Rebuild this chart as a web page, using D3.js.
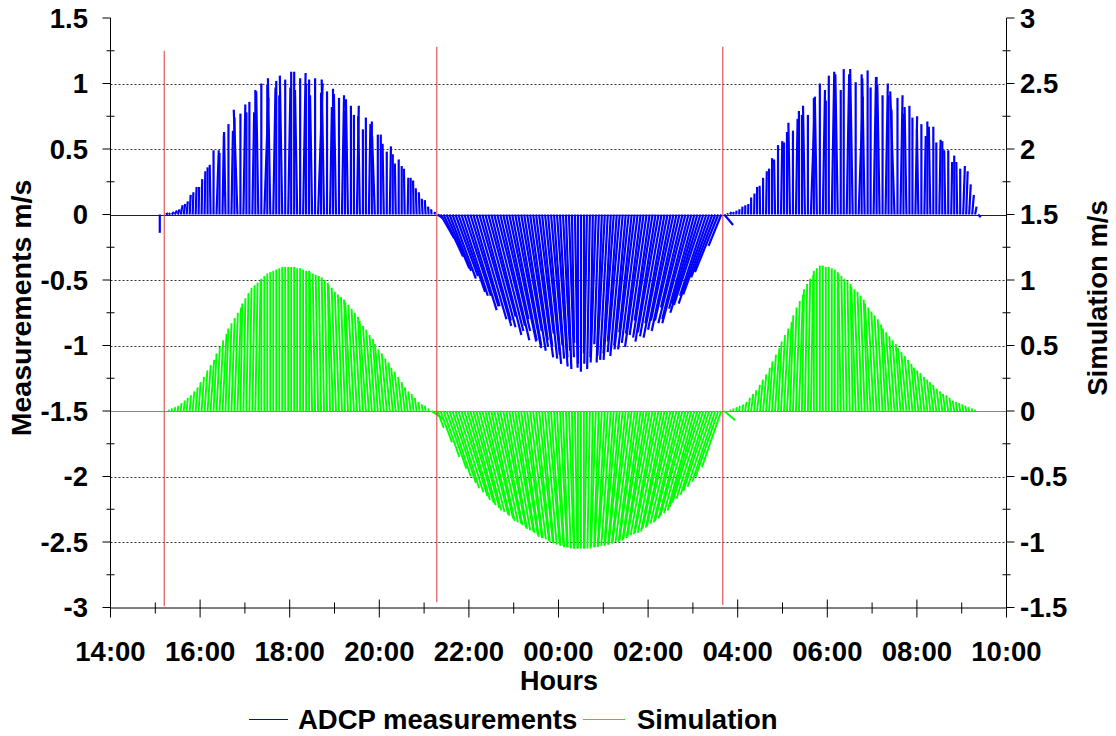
<!DOCTYPE html>
<html>
<head>
<meta charset="utf-8">
<script src="https://cdn.jsdelivr.net/npm/d3@7"></script>
<style>
  html, body { margin: 0; padding: 0; background: #ffffff; }
  svg { display: block; }
  text { font-family: "Liberation Sans", Arial, Helvetica, sans-serif; font-weight: bold; fill: #000; }
</style>
</head>
<body>
<svg id="chart" width="1116" height="736"></svg>
<script>
// Sampling grid of both records: first stick at 15:06, one stick every 4 minutes.
const sampleStart = new Date(2000, 0, 1, 15, 6);
const sampleStepMinutes = 4;

// ADCP measured current (m/s, vertical component of each stick), one row per hour.
const adcpSpeed = [
  -0.14, 0, 0.01, 0.01, 0.02, 0.03, 0.04, 0.07, 0.08, 0.10, 0.15, 0.17, 0.21, 0.21, 0.27,
  0.33, 0.36, 0.38, 0.49, 0.49, 0.47, 0.61, 0.63, 0.69, 0.64, 0.74, 0.80, 0.77, 0.84, 0.78,
  0.86, 0.78, 0.95, 0.94, 1.00, 0.89, 0.99, 1.04, 0.97, 1.02, 0.91, 1.06, 1.03, 0.97, 1.09,
  1.09, 0.95, 1.04, 1.08, 1.00, 1.03, 0.91, 1.04, 1.00, 0.93, 1.03, 0.94, 0.82, 0.96, 0.92,
  0.89, 0.91, 0.79, 0.88, 0.83, 0.76, 0.83, 0.75, 0.65, 0.74, 0.69, 0.71, 0.60, 0.61, 0.61,
  0.54, 0.48, 0.52, 0.46, 0.39, 0.42, 0.37, 0.35, 0.28, 0.28, 0.26, 0.20, 0.17, 0.12, 0.11,
  0.06, 0.04, 0.02, -0.03, -0.18, -0.32, -0.41, -0.43, -0.49, -0.47, -0.59, -0.62, -0.62, -0.73, -0.70,
  -0.70, -0.80, -0.85, -0.81, -0.86, -0.78, -0.92, -0.89, -0.85, -0.96, -0.89, -0.80, -0.97, -0.96, -1.02,
  -1.00, -0.89, -1.04, -1.01, -0.96, -1.09, -1.01, -0.91, -1.10, -1.07, -1.14, -1.00, -1.10, -1.16, -1.09,
  -1.04, -1.18, -1.09, -0.98, -1.17, -1.14, -1.20, -1.06, -1.14, -1.18, -1.09, -1.13, -0.99, -1.13, -1.08,
  -1.11, -1.06, -1.11, -0.97, -1.05, -1.08, -1.00, -1.03, -0.90, -1.03, -0.98, -0.91, -1.01, -0.92, -0.81,
  -0.94, -0.97, -0.90, -0.93, -0.83, -0.94, -0.88, -0.81, -0.89, -0.81, -0.71, -0.83, -0.80, -0.83, -0.72,
  -0.68, -0.75, -0.69, -0.62, -0.68, -0.61, -0.48, -0.44, -0.24, -0.08, 0.01, 0.02, 0.02, 0.03, 0.04,
  0.06, 0.07, 0.08, 0.13, 0.16, 0.21, 0.22, 0.28, 0.33, 0.35, 0.43, 0.42, 0.53, 0.56, 0.55,
  0.63, 0.70, 0.64, 0.73, 0.79, 0.76, 0.83, 0.76, 0.90, 0.89, 0.86, 1.00, 0.95, 0.87, 1.06,
  1.09, 1.02, 1.07, 0.95, 1.11, 1.07, 1.00, 1.11, 1.01, 0.90, 1.07, 1.04, 1.10, 0.97, 1.05,
  1.05, 0.99, 0.91, 1.00, 0.91, 0.80, 0.94, 0.89, 0.91, 0.77, 0.82, 0.83, 0.74, 0.75, 0.65,
  0.69, 0.60, 0.71, 0.67, 0.67, 0.55, 0.57, 0.56, 0.49, 0.49, 0.40, 0.45, 0.40, 0.35, 0.37,
  0.33, 0.23, 0.15, 0.06, -0.02
];

// ADCP stick direction: lean from vertical in degrees (positive = tip to the right).
const adcpLean = [
  0, 70, 60, 50, 40, 30, 20, 12, 8, 5, 3, 2, 2, 1, 1,
  1, 0, -1, 0, 2, 0, 1, -1, 0, 1, 0, -2, 0, 1, 0,
  0, 1, 0, -1, 0, 2, 0, -1, 1, 0, 0, -1, 0, 1, 0,
  0, -1, 0, 1, 0, 0, -1, 0, 2, 0, -1, 0, 1, 0, -1,
  0, 1, 0, -1, 0, 0, 1, -1, 0, 0, 1, 0, -2, 0, 0,
  -1, 0, 1, 0, -1, 0, 0, -1, 1, 0, -1, -2, -2, -3, -3,
  -4, -5, 10, 55, 30, 25, 23, 21, 20, 20, 19, 18, 18, 17, 17,
  16, 16, 16, 15, 15, 15, 14, 14, 14, 13, 13, 12, 12, 11, 11,
  10, 10, 9, 9, 8, 8, 7, 7, 6, 6, 5, 5, 4, 4, 3,
  3, 2, 2, 1, 1, 0, 0, 0, -1, -1, -1, -2, -2, -2, -3,
  -3, -3, -4, -4, -5, -5, -5, -6, -6, -7, -7, -7, -8, -8, -8,
  -9, -9, -10, -10, -10, -11, -11, -12, -12, -13, -13, -14, -14, -15, -15,
  -16, -17, -18, -18, -19, -20, -21, -22, -22, 40, 30, 20, 10, 5, 3,
  2, 1, 1, 0, 1, 0, -1, 0, 1, 0, 0, -1, 0, 1, 0,
  0, -1, 0, 1, 0, 0, -1, 0, 2, 0, -1, 0, 1, 0, 0,
  1, 0, -1, 0, 0, 1, 0, -1, 0, 2, 0, -1, 0, 0, 1,
  0, -1, 0, 1, 0, 0, -2, 0, 1, 0, -1, 0, 0, 1, -1,
  0, 1, 0, -1, 0, 0, 1, 0, -1, 0, 1, 0, -1, 0, 2,
  2, 3, 5, 10, 45
];

// Simulated current (m/s, right axis), same sampling grid.
const simSpeed = [
  0, 0, 0.00, 0.01, 0.02, 0.03, 0.04, 0.06, 0.08, 0.10, 0.12, 0.15, 0.18, 0.22, 0.26,
  0.31, 0.35, 0.39, 0.44, 0.49, 0.54, 0.59, 0.63, 0.67, 0.71, 0.75, 0.79, 0.82, 0.86, 0.90,
  0.94, 0.96, 0.98, 0.99, 1.01, 1.03, 1.05, 1.06, 1.07, 1.08, 1.09, 1.10, 1.10, 1.10, 1.10,
  1.10, 1.09, 1.09, 1.08, 1.07, 1.07, 1.06, 1.05, 1.04, 1.03, 1.02, 1.00, 0.98, 0.96, 0.94,
  0.91, 0.89, 0.87, 0.85, 0.83, 0.81, 0.78, 0.75, 0.72, 0.69, 0.65, 0.62, 0.58, 0.55, 0.51,
  0.47, 0.44, 0.40, 0.37, 0.33, 0.30, 0.26, 0.22, 0.18, 0.15, 0.13, 0.10, 0.07, 0.05, 0.04,
  0.02, -0.04, -0.07, -0.13, -0.24, -0.35, -0.44, -0.50, -0.55, -0.59, -0.62, -0.65, -0.68, -0.70, -0.72,
  -0.74, -0.76, -0.77, -0.79, -0.80, -0.82, -0.84, -0.85, -0.86, -0.87, -0.89, -0.90, -0.91, -0.92, -0.93,
  -0.95, -0.96, -0.97, -0.97, -0.98, -0.99, -1.00, -1.00, -1.01, -1.02, -1.02, -1.03, -1.03, -1.04, -1.04,
  -1.04, -1.05, -1.05, -1.05, -1.05, -1.05, -1.05, -1.05, -1.05, -1.05, -1.05, -1.04, -1.04, -1.04, -1.04,
  -1.03, -1.03, -1.03, -1.02, -1.02, -1.02, -1.01, -1.01, -1.00, -1.00, -0.99, -0.99, -0.98, -0.97, -0.96,
  -0.95, -0.94, -0.93, -0.93, -0.92, -0.90, -0.89, -0.88, -0.86, -0.85, -0.84, -0.82, -0.80, -0.78, -0.76,
  -0.73, -0.70, -0.67, -0.64, -0.61, -0.58, -0.54, -0.50, -0.43, -0.07, 0.00, 0.01, 0.02, 0.03, 0.04,
  0.05, 0.07, 0.10, 0.13, 0.16, 0.20, 0.24, 0.28, 0.33, 0.38, 0.43, 0.48, 0.53, 0.58, 0.63,
  0.68, 0.73, 0.79, 0.84, 0.89, 0.93, 0.97, 1.01, 1.04, 1.07, 1.09, 1.11, 1.11, 1.10, 1.10,
  1.09, 1.08, 1.06, 1.05, 1.03, 1.01, 0.99, 0.97, 0.95, 0.93, 0.91, 0.88, 0.85, 0.82, 0.79,
  0.76, 0.73, 0.70, 0.66, 0.63, 0.60, 0.57, 0.54, 0.51, 0.48, 0.45, 0.42, 0.39, 0.36, 0.33,
  0.31, 0.29, 0.26, 0.24, 0.22, 0.20, 0.17, 0.15, 0.13, 0.12, 0.10, 0.08, 0.07, 0.06, 0.05,
  0.04, 0.03, 0.02, 0.01, 0.00
];

// Simulated stick direction: lean from vertical in degrees.
const simLean = [
  0, 0, 8, 8, 7, 7, 6, 6, 6, 5, 5, 5, 5, 4, 4,
  4, 4, 4, 3, 3, 3, 3, 2, 2, 2, 2, 2, 1, 1, 1,
  1, 1, 1, 1, 0, 0, 0, 0, 0, 0, 0, 0, 0, 0, 0,
  0, 0, 0, 0, 0, 0, -1, -1, -1, -1, -1, -1, -1, -2, -2,
  -2, -2, -2, -2, -3, -3, -3, -3, -3, -4, -4, -4, -4, -4, -5,
  -5, -5, -5, -5, -6, -6, -6, -6, -7, -7, -7, -8, -8, -8, -9,
  -5, 55, 45, 20, 20, 19, 19, 18, 18, 17, 17, 17, 16, 16, 15,
  15, 14, 14, 14, 13, 13, 12, 12, 12, 11, 11, 10, 10, 10, 9,
  9, 8, 8, 7, 7, 7, 6, 6, 5, 5, 5, 4, 4, 3, 3,
  2, 2, 2, 1, 1, 0, 0, 0, -1, -1, -1, -2, -2, -3, -3,
  -4, -4, -4, -5, -5, -6, -6, -7, -7, -7, -8, -8, -9, -9, -10,
  -10, -10, -11, -11, -11, -12, -12, -13, -13, -13, -14, -14, -15, -15, -15,
  -16, -17, -17, -17, -18, -18, -18, -19, -19, 50, 40, 20, 10, 8, 6,
  10, 9, 8, 7, 6, 6, 5, 5, 5, 4, 4, 4, 3, 3, 3,
  3, 2, 2, 2, 2, 1, 1, 1, 1, 0, 0, 0, 0, 0, 0,
  0, 0, 0, -1, -1, -1, -1, -1, -2, -2, -2, -2, -2, -3, -3,
  -3, -3, -3, -3, -4, -4, -4, -4, -4, -5, -5, -5, -5, -5, -6,
  -6, -6, -6, -6, -7, -7, -7, -7, -8, -8, -8, -8, -9, -9, -9,
  -10, -10, -10, -10, 0
];

// Slack-water markers (red verticals), spans given in left-axis units.
const slackTimes = [new Date(2000, 0, 1, 15, 12), new Date(2000, 0, 1, 21, 17), new Date(2000, 0, 2, 3, 40)];
const slackTop = [1.25, 1.28, 1.28];
const slackBottom = [-2.99, -2.96, -2.98];

// Axis tick values and labels.
const leftTicks = [1.5, 1, 0.5, 0, -0.5, -1, -1.5, -2, -2.5, -3];
const rightTicks = [3, 2.5, 2, 1.5, 1, 0.5, 0, -0.5, -1, -1.5];
const timeDomain = [new Date(2000, 0, 1, 14, 0), new Date(2000, 0, 2, 10, 0)];

const svg = d3.select("#chart");

const x = d3.scaleTime().domain(timeDomain).range([110.5, 1006.5]);
const yL = d3.scaleLinear().domain([-3, 1.5]).range([607.5, 18]);
const yR = d3.scaleLinear().domain([-1.5, 3]).range([607.5, 18]);

const plotLeft = x.range()[0], plotRight = x.range()[1];
const plotTop = yL.range()[1], plotBottom = yL.range()[0];

// dotted horizontal grid
const gridVals = leftTicks.filter(v => v !== 0 && v !== -1.5 && v !== -3 && v !== 1.5);
svg.append("g").selectAll("line").data(gridVals).join("line")
  .attr("x1", plotLeft).attr("x2", plotRight)
  .attr("y1", d => Math.round(yL(d)) + 0.5).attr("y2", d => Math.round(yL(d)) + 0.5)
  .attr("stroke", "#333").attr("stroke-width", 1).attr("stroke-dasharray", "2,2");

// zero baselines of both records
svg.append("line").attr("x1", plotLeft).attr("x2", plotRight)
  .attr("y1", Math.round(yL(0)) + 0.5).attr("y2", Math.round(yL(0)) + 0.5)
  .attr("stroke", "#222").attr("stroke-width", 1);
svg.append("line").attr("x1", plotLeft).attr("x2", plotRight)
  .attr("y1", Math.round(yR(0)) + 0.5).attr("y2", Math.round(yR(0)) + 0.5)
  .attr("stroke", "#888").attr("stroke-width", 1);

// build sticks: base on the zero line, tip at the vertical component, leaning by direction
function sticks(speeds, leans, yScale) {
  return speeds.map((v, i) => {
    const t = d3.timeMinute.offset(sampleStart, i * sampleStepMinutes);
    const x0 = x(t), y0 = yScale(0), y1 = yScale(v);
    const dx = Math.abs(y1 - y0) * Math.tan(leans[i] * Math.PI / 180);
    return { x0, y0, x1: x0 + dx, y1 };
  }).filter(s => Math.abs(s.y1 - s.y0) > 0.01 || Math.abs(s.x1 - s.x0) > 0.01);
}

svg.append("g").attr("class", "adcp").selectAll("line")
  .data(sticks(adcpSpeed, adcpLean, yL)).join("line")
  .attr("x1", d => d.x0).attr("y1", d => d.y0).attr("x2", d => d.x1).attr("y2", d => d.y1)
  .attr("stroke", "#0000ff").attr("stroke-width", 2.2);

svg.append("g").attr("class", "sim").selectAll("line")
  .data(sticks(simSpeed, simLean, yR)).join("line")
  .attr("x1", d => d.x0).attr("y1", d => d.y0).attr("x2", d => d.x1).attr("y2", d => d.y1)
  .attr("stroke", "#00ff00").attr("stroke-width", 1.9);

// slack-water markers
svg.append("g").selectAll("line").data(slackTimes).join("line")
  .attr("x1", d => x(d)).attr("x2", d => x(d))
  .attr("y1", (d, i) => yL(slackTop[i])).attr("y2", (d, i) => yL(slackBottom[i]))
  .attr("stroke", "#e04848").attr("stroke-width", 1.3).attr("stroke-opacity", 0.85);

// axes frame
const axisG = svg.append("g").attr("stroke", "#000").attr("stroke-width", 1);
axisG.append("line").attr("x1", plotLeft).attr("x2", plotLeft).attr("y1", plotTop).attr("y2", plotBottom);
axisG.append("line").attr("x1", plotRight).attr("x2", plotRight).attr("y1", plotTop).attr("y2", plotBottom);
axisG.append("line").attr("x1", plotLeft).attr("x2", plotRight).attr("y1", plotBottom + 0.5).attr("y2", plotBottom + 0.5);

// left ticks: major every 0.5 outward, minor every 0.25 across the axis
leftTicks.forEach(v => {
  axisG.append("line").attr("x1", plotLeft - 8).attr("x2", plotLeft).attr("y1", yL(v)).attr("y2", yL(v));
});
d3.range(0, leftTicks.length - 1).forEach(i => {
  const v = (leftTicks[i] + leftTicks[i + 1]) / 2;
  axisG.append("line").attr("x1", plotLeft - 4).attr("x2", plotLeft + 4).attr("y1", yL(v)).attr("y2", yL(v));
});
rightTicks.forEach(v => {
  axisG.append("line").attr("x1", plotRight).attr("x2", plotRight + 8).attr("y1", yR(v)).attr("y2", yR(v));
});
d3.range(0, rightTicks.length - 1).forEach(i => {
  const v = (rightTicks[i] + rightTicks[i + 1]) / 2;
  axisG.append("line").attr("x1", plotRight - 4).attr("x2", plotRight + 4).attr("y1", yR(v)).attr("y2", yR(v));
});

// time ticks: labelled every 2 hours, minor every hour
const majorTimes = d3.timeHour.every(2).range(timeDomain[0], d3.timeMinute.offset(timeDomain[1], 1));
const minorTimes = d3.timeHour.every(1).range(timeDomain[0], timeDomain[1]).filter(t => t.getHours() % 2 === 1);
majorTimes.forEach(t => {
  axisG.append("line").attr("x1", x(t)).attr("x2", x(t)).attr("y1", plotBottom - 8).attr("y2", plotBottom + 10);
});
minorTimes.forEach(t => {
  axisG.append("line").attr("x1", x(t)).attr("x2", x(t)).attr("y1", plotBottom - 5).attr("y2", plotBottom + 6);
});

const fmt = d3.timeFormat("%H:%M");
const num = d => String(d);   // plain hyphen-minus, as printed on the axes
svg.append("g").selectAll("text").data(majorTimes).join("text")
  .attr("x", d => x(d)).attr("y", 661).attr("text-anchor", "middle")
  .style("font-size", "27.5px").text(d => fmt(d));

svg.append("g").selectAll("text").data(leftTicks).join("text")
  .attr("x", 88).attr("y", d => yL(d)).attr("dy", "0.36em").attr("text-anchor", "end")
  .style("font-size", "27.5px").text(num);

svg.append("g").selectAll("text").data(rightTicks).join("text")
  .attr("x", 1020).attr("y", d => yR(d)).attr("dy", "0.36em").attr("text-anchor", "start")
  .style("font-size", "27.5px").text(num);

// axis titles
svg.append("text").attr("x", 559).attr("y", 690).attr("text-anchor", "middle")
  .style("font-size", "27px").text("Hours");
svg.append("text").attr("transform", "translate(31,308) rotate(-90)").attr("text-anchor", "middle")
  .style("font-size", "28.5px").text("Measurements m/s");
svg.append("text").attr("transform", "translate(1107,298) rotate(-90)").attr("text-anchor", "middle")
  .style("font-size", "27.5px").text("Simulation m/s");

// legend
const legend = svg.append("g");
legend.append("line").attr("x1", 249).attr("x2", 288).attr("y1", 719.5).attr("y2", 719.5)
  .attr("stroke", "#0000ff").attr("stroke-width", 1);
legend.append("text").attr("x", 298).attr("y", 729).style("font-size", "27.5px").text("ADCP measurements");
legend.append("line").attr("x1", 583).attr("x2", 625).attr("y1", 719.5).attr("y2", 719.5)
  .attr("stroke", "#00ff00").attr("stroke-width", 1);
legend.append("text").attr("x", 637).attr("y", 729).style("font-size", "27.5px").text("Simulation");
</script>
</body>
</html>
